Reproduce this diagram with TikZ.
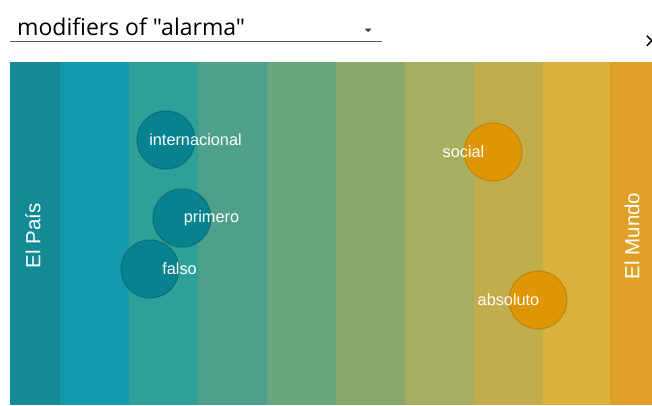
\documentclass[tikz,border=0pt]{standalone}
\usepackage{fontspec}
\setmainfont{Liberation Sans}
\newfontfamily\titlefont{Open Sans}
\newfontfamily\symfont{DejaVu Sans}

\definecolor{band1}{HTML}{138A96}
\definecolor{band2}{HTML}{139AAD}
\definecolor{band3}{HTML}{2EA09A}
\definecolor{band4}{HTML}{4EA08B}
\definecolor{band5}{HTML}{68A67D}
\definecolor{band6}{HTML}{87A86A}
\definecolor{band7}{HTML}{A5AF5F}
\definecolor{band8}{HTML}{C2AD4C}
\definecolor{band9}{HTML}{DBB13C}
\definecolor{band10}{HTML}{E0A028}
\definecolor{tealdot}{HTML}{07838F}
\definecolor{tealedge}{HTML}{0B6E77}
\definecolor{orangedot}{HTML}{DE9604}
\definecolor{orangeedge}{HTML}{BE8514}

\begin{document}
\begin{tikzpicture}[x=1pt,y=-1pt,
    word/.style={text=white,inner sep=0pt,font=\fontsize{16.3}{18}\selectfont},
    paper/.style={text=white,inner sep=0pt,rotate=90,font=\fontsize{20.5}{24}\selectfont},
    dot/.style={circle,draw,line width=1pt,minimum size=58pt,inner sep=0pt},
    leftdot/.style={dot,fill=tealdot,draw=tealedge},
    rightdot/.style={dot,fill=orangedot,draw=orangeedge}]
    \useasboundingbox (0,0) rectangle (652,405);

    % title with drop-down
    \node[anchor=base west,inner sep=0pt,font=\titlefont\fontsize{23}{27}\selectfont] (title) at (17,35) {modifiers of "alarma"};
    \draw[line width=1pt,black!65] (10,41) -- (382,41);
    \fill[black!80] (364.5,28.5) -- (371.5,28.5) -- (368,32) -- cycle;
    \node[inner sep=0pt,font=\symfont\fontsize{20}{24}\selectfont] (close) at (652,42) {×};

    % colour bands
    \foreach \x/\w/\c in {10/50/band1, 60/69/band2, 129/69/band3, 198/69/band4,
        267/69/band5, 336/69/band6, 405/69/band7, 474/69/band8, 543/67/band9, 610/42/band10}
      \fill[\c] (\x,62) rectangle ++(\w,343);

    \node[paper] (pais) at (33,236) {El País};
    \node[paper] (mundo) at (632,236) {El Mundo};

    % modifiers
    \node[leftdot] (internacional) at (166,140) {};
    \node[leftdot] (primero) at (182,218) {};
    \node[leftdot] (falso) at (150,269) {};
    \node[rightdot] (social) at (493,152) {};
    \node[rightdot] (absoluto) at (538,300) {};

    \node[word] at (internacional.east) {internacional};
    \node[word] at (primero.east) {primero};
    \node[word] at (falso.east) {falso};
    \node[word] at (social.west) {social};
    \node[word] at (absoluto.west) {absoluto};
\end{tikzpicture}
\end{document}
